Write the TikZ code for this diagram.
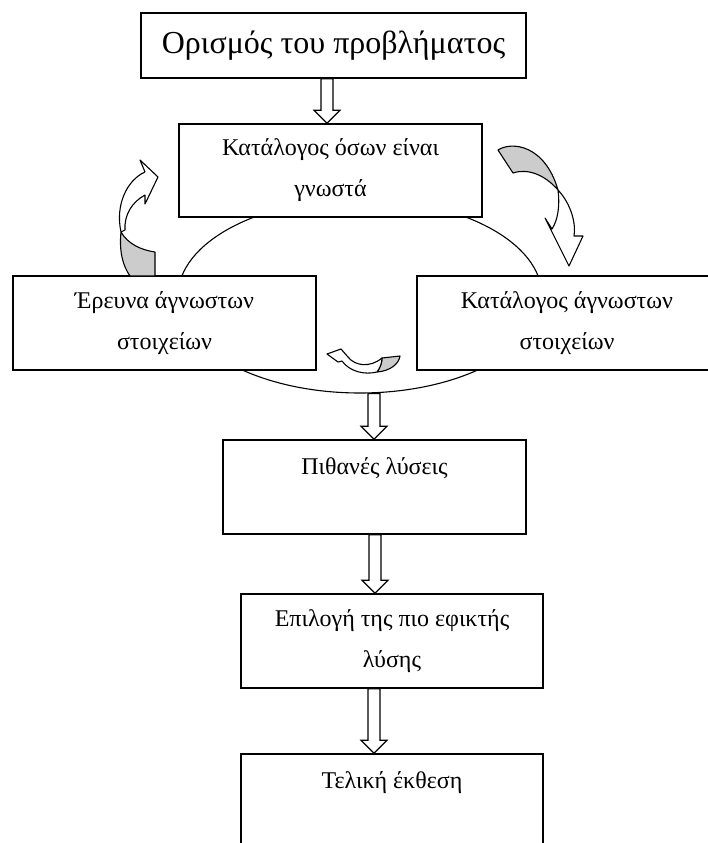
\documentclass[tikz,border=0pt]{standalone}
\usepackage{fontspec}
\setmainfont{Liberation Serif}
\usetikzlibrary{shapes.geometric,calc}
\newcommand\hollowdown[3]{%
  \path (#1,0 |- #2) coordinate (hs) (#1,0 |- #3) coordinate (he);
  \draw[harrow] ($(hs)+(-6,0)$) -- ($(he)+(-6,-13)$) -- ($(he)+(-13,-13)$) -- (he)
    -- ($(he)+(13,-13)$) -- ($(he)+(6,-13)$) -- ($(hs)+(6,0)$) -- cycle;}
\begin{document}
\begin{tikzpicture}[x=1pt,y=-1pt,
  box/.style={draw, fill=white, line width=1.5pt, inner sep=0pt, align=center,
    font=\fontsize{24}{41}\selectfont},
  harrow/.style={draw, fill=white, line width=1.1pt, line join=miter},
  curl/.style={draw, fill=white, line width=1.1pt, line join=round},
  curlback/.style={draw, fill=gray!40, line width=1.1pt, line join=round}]
\path[fill=white, use as bounding box] (0,0) rectangle (708,843);
% loop
\node[draw, ellipse, line width=1.1pt, inner sep=0pt, minimum width=364pt,
  minimum height=194pt] (loop) at (360,296) {};
% boxes
\node[box, minimum width=385pt, minimum height=65pt,
  font=\fontsize{32}{38}\selectfont] (def) at (333.5,45.5) {Ορισμός του προβλήματος};
\node[box, minimum width=303pt, minimum height=93pt] (known) at (330.5,170.5)
  {Κατάλογος όσων είναι\\γνωστά};
\node[box, minimum width=303pt, minimum height=94pt] (search) at (164.5,323)
  {Έρευνα άγνωστων\\στοιχείων};
\node[box, minimum width=340pt, minimum height=94pt] (unknown) at (587,323)
  {\hspace*{-40pt}Κατάλογος άγνωστων\\\hspace*{-40pt}στοιχείων};
\node[box, minimum width=303pt, minimum height=94pt] (sol) at (374.5,487)
  {Πιθανές λύσεις\\\mbox{}};
\node[box, minimum width=302pt, minimum height=94pt] (best) at (392,641)
  {Επιλογή της πιο εφικτής\\λύσης};
\node[box, minimum width=302pt, minimum height=94pt] (report) at (392,801)
  {Τελική έκθεση\\\mbox{}};
% hollow arrows
\hollowdown{327}{def.south}{known.north}
\hollowdown{374}{loop.south}{sol.north}
\hollowdown{375}{sol.south}{best.north}
\hollowdown{374}{best.south}{report.north}
% left curled arrow
\draw[curlback] (121,232) .. controls (119,252) and (123,266) .. (130,276)
  -- (155,276) -- (155,252) .. controls (141,250) and (128,244) .. (121,232) -- cycle;
\draw[curl] (145,172) .. controls (127,180) and (115,205) .. (121,232) -- (125,230)
  .. controls (124,215) and (132,202) .. (145,195) -- (145,204) -- (158,177)
  -- (140,160) -- cycle;
% right curled arrow
\draw[curlback] (498,150) .. controls (512,141) and (545,145) .. (558,190)
  .. controls (545,175) and (528,168) .. (513,173) -- cycle;
\draw[curl] (558,190) .. controls (572,205) and (576,225) .. (574,236) -- (583,236)
  -- (569,266) -- (545,218) -- (552,229) .. controls (558,220) and (560,205) .. (558,190) -- cycle;
% small curled arrow
\draw[curlback] (382,358) -- (400,356) .. controls (399,364) and (390,371) .. (377,372)
  .. controls (380,368) and (382,363) .. (382,358) -- cycle;
\draw[curl] (382,358) .. controls (370,368) and (355,366) .. (348,357) -- (341,349)
  -- (327,354) -- (338,362) -- (342,361) .. controls (350,372) and (365,375) .. (377,372)
  .. controls (380,368) and (382,363) .. (382,358) -- cycle;
\end{tikzpicture}
\end{document}
